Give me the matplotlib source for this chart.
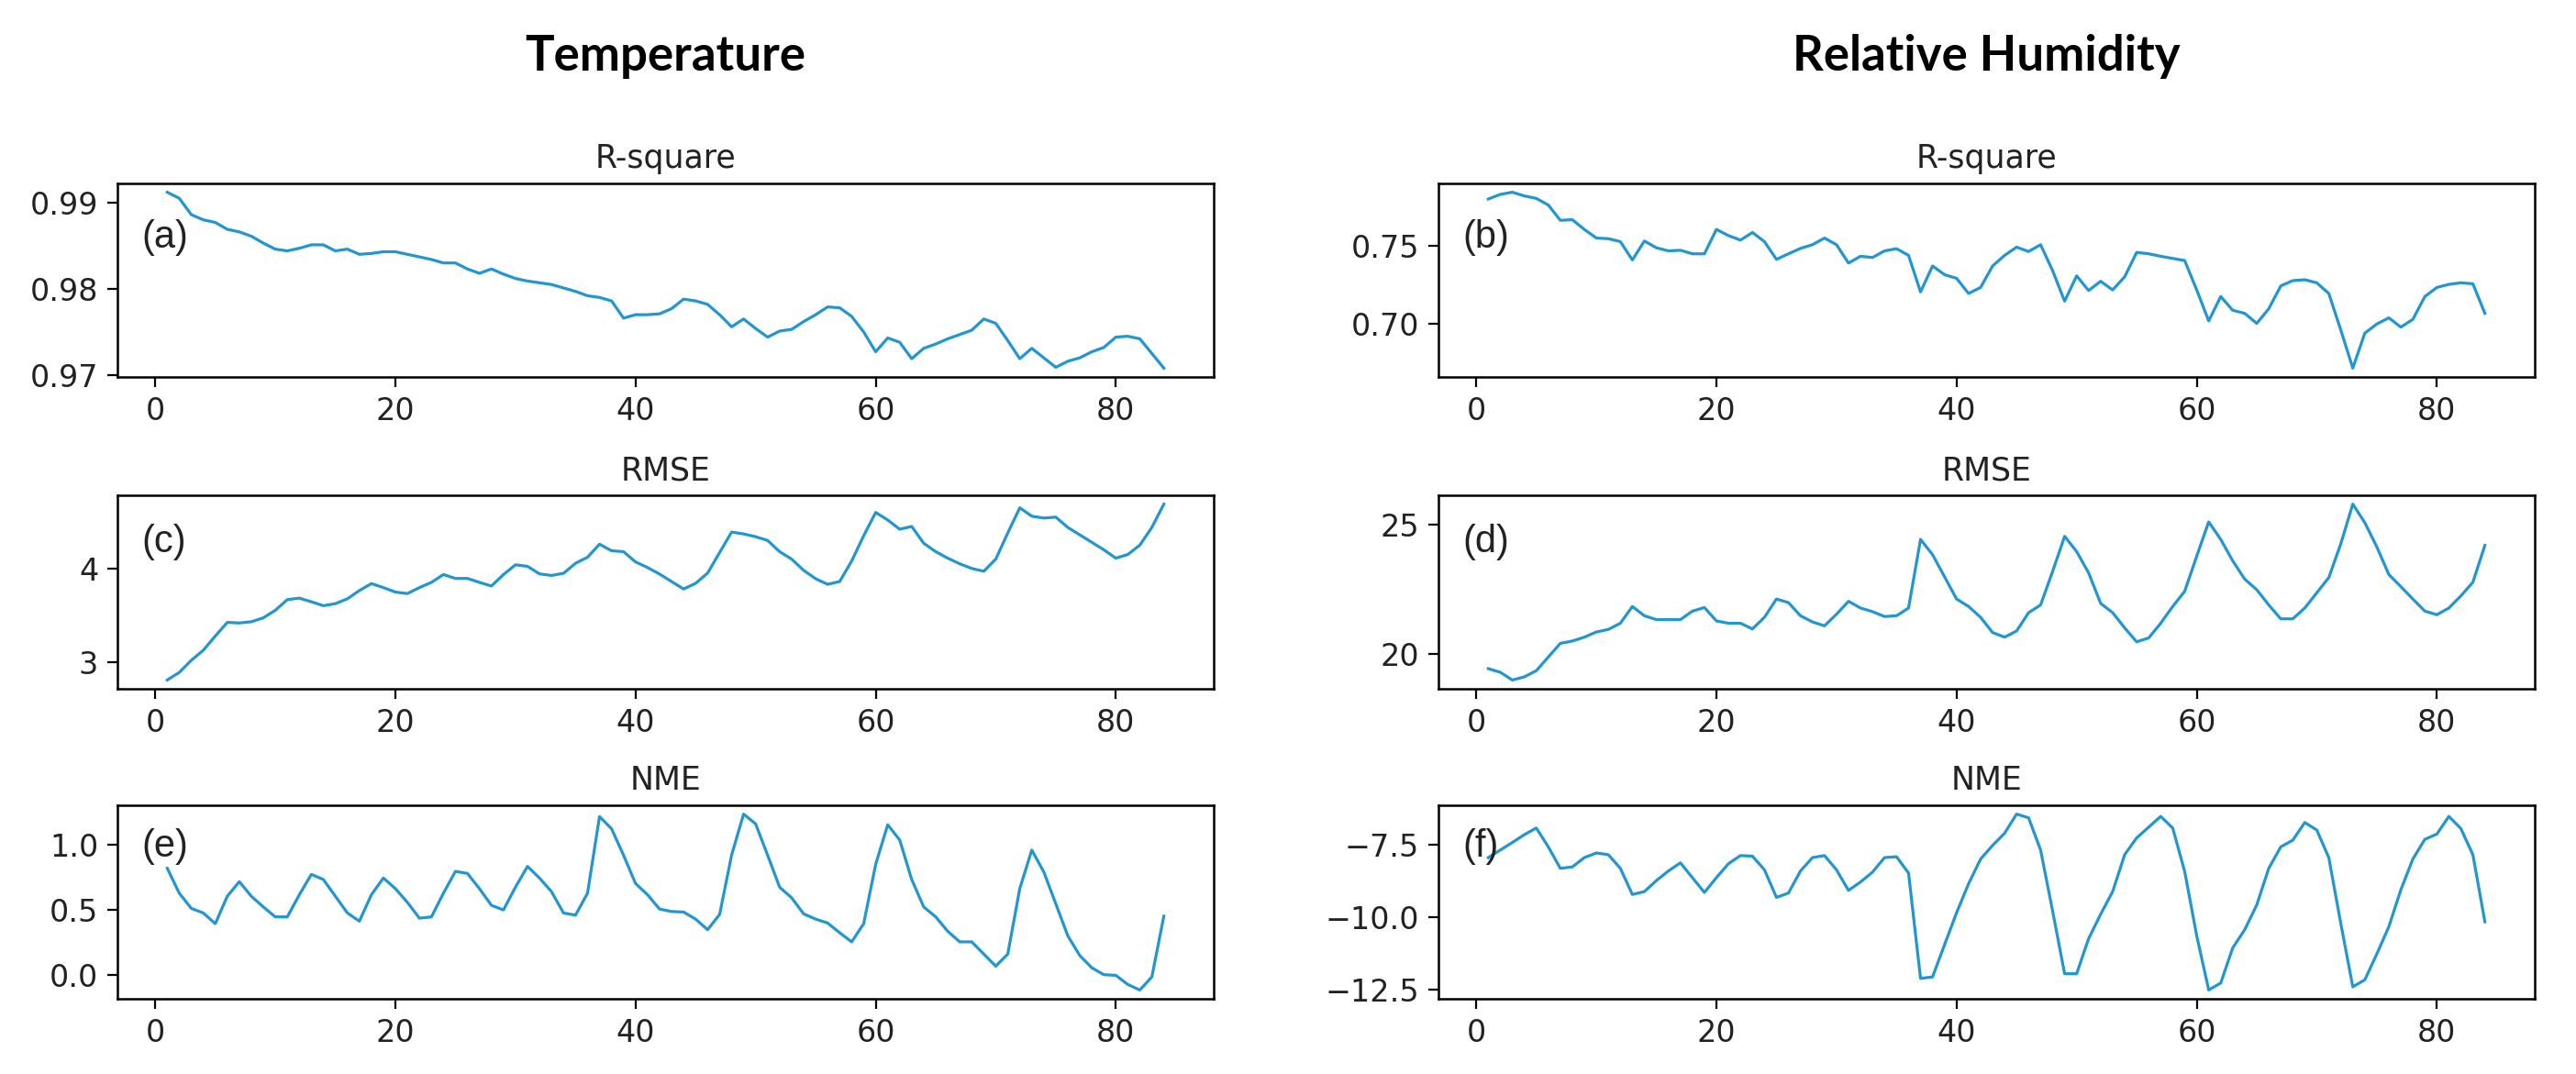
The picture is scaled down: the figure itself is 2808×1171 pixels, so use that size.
import numpy as np
import matplotlib
matplotlib.use("Agg")
import matplotlib.pyplot as plt

# lead time index 1..84
steps = list(range(1, 85))

temp_r2 = [0.9912, 0.9905, 0.9886, 0.9880, 0.9877, 0.9869, 0.9866, 0.9861, 0.9853, 0.9846,
           0.9844, 0.9847, 0.9851, 0.9851, 0.9844, 0.9846, 0.9840, 0.9841, 0.9843, 0.9843,
           0.9840, 0.9837, 0.9834, 0.9830, 0.9830, 0.9823, 0.9818, 0.9823, 0.9817, 0.9812,
           0.9809, 0.9807, 0.9805, 0.9801, 0.9797, 0.9792, 0.9790, 0.9786, 0.9766, 0.9770,
           0.9770, 0.9771, 0.9777, 0.9788, 0.9786, 0.9782, 0.9770, 0.9756, 0.9765, 0.9754,
           0.9744, 0.9751, 0.9753, 0.9762, 0.9770, 0.9779, 0.9778, 0.9768, 0.9750, 0.9727,
           0.9743, 0.9738, 0.9719, 0.9731, 0.9736, 0.9742, 0.9747, 0.9752, 0.9765, 0.9760,
           0.9740, 0.9719, 0.9731, 0.9720, 0.9709, 0.9716, 0.9720, 0.9727, 0.9732, 0.9744,
           0.9745, 0.9742, 0.9725, 0.9708]

rh_r2 = [0.7806, 0.7836, 0.7850, 0.7826, 0.7810, 0.7767, 0.7668, 0.7672, 0.7609, 0.7553,
         0.7549, 0.7530, 0.7411, 0.7534, 0.7490, 0.7470, 0.7474, 0.7451, 0.7451, 0.7609,
         0.7569, 0.7540, 0.7589, 0.7530, 0.7415, 0.7451, 0.7486, 0.7510, 0.7553, 0.7510,
         0.7391, 0.7435, 0.7427, 0.7470, 0.7484, 0.7441, 0.7204, 0.7372, 0.7316, 0.7292,
         0.7194, 0.7233, 0.7372, 0.7441, 0.7494, 0.7466, 0.7510, 0.7342, 0.7144, 0.7308,
         0.7213, 0.7273, 0.7217, 0.7302, 0.7460, 0.7451, 0.7435, 0.7421, 0.7407, 0.7217,
         0.7016, 0.7174, 0.7085, 0.7065, 0.7000, 0.7095, 0.7243, 0.7277, 0.7283, 0.7263,
         0.7194, 0.6957, 0.6710, 0.6937, 0.6996, 0.7036, 0.6976, 0.7026, 0.7174, 0.7233,
         0.7253, 0.7263, 0.7257, 0.7065]

temp_rmse = [2.805, 2.886, 3.016, 3.123, 3.276, 3.422, 3.416, 3.429, 3.471, 3.552,
             3.666, 3.682, 3.643, 3.601, 3.623, 3.675, 3.763, 3.838, 3.795, 3.747,
             3.731, 3.795, 3.851, 3.935, 3.893, 3.893, 3.851, 3.812, 3.935, 4.039,
             4.023, 3.942, 3.925, 3.948, 4.055, 4.120, 4.260, 4.190, 4.180, 4.070,
             4.010, 3.940, 3.860, 3.780, 3.840, 3.950, 4.170, 4.390, 4.370, 4.340,
             4.300, 4.180, 4.100, 3.980, 3.890, 3.830, 3.860, 4.080, 4.350, 4.600,
             4.520, 4.420, 4.450, 4.270, 4.180, 4.110, 4.050, 4.000, 3.970, 4.100,
             4.380, 4.650, 4.560, 4.540, 4.550, 4.440, 4.360, 4.280, 4.200, 4.110,
             4.150, 4.250, 4.440, 4.690]

rh_rmse = [19.43, 19.29, 18.99, 19.11, 19.35, 19.88, 20.41, 20.50, 20.65, 20.85,
           20.95, 21.19, 21.84, 21.48, 21.33, 21.33, 21.33, 21.66, 21.80, 21.28,
           21.19, 21.19, 20.97, 21.42, 22.13, 21.99, 21.48, 21.24, 21.09, 21.54,
           22.04, 21.78, 21.64, 21.45, 21.48, 21.78, 24.44, 23.85, 22.99, 22.13,
           21.84, 21.42, 20.83, 20.65, 20.89, 21.60, 21.90, 23.20, 24.56, 23.97,
           23.14, 21.96, 21.60, 21.01, 20.47, 20.62, 21.19, 21.84, 22.43, 23.79,
           25.12, 24.44, 23.61, 22.90, 22.49, 21.90, 21.36, 21.36, 21.78, 22.37,
           22.96, 24.27, 25.81, 25.09, 24.15, 23.08, 22.61, 22.13, 21.66, 21.52,
           21.78, 22.25, 22.78, 24.21]

temp_nme = [0.819, 0.628, 0.512, 0.477, 0.395, 0.605, 0.716, 0.605, 0.523, 0.447,
            0.447, 0.616, 0.772, 0.733, 0.605, 0.477, 0.414, 0.616, 0.744, 0.663,
            0.558, 0.437, 0.447, 0.628, 0.795, 0.779, 0.663, 0.535, 0.500, 0.674,
            0.833, 0.744, 0.640, 0.477, 0.460, 0.628, 1.214, 1.121, 0.919, 0.702,
            0.616, 0.507, 0.488, 0.484, 0.430, 0.349, 0.465, 0.919, 1.233, 1.158,
            0.919, 0.674, 0.593, 0.470, 0.430, 0.400, 0.326, 0.256, 0.395, 0.849,
            1.151, 1.035, 0.733, 0.523, 0.447, 0.337, 0.256, 0.256, 0.163, 0.070,
            0.163, 0.663, 0.958, 0.791, 0.547, 0.302, 0.151, 0.058, 0.005, 0.000,
            -0.070, -0.112, -0.012, 0.453]

rh_nme = [-7.94, -7.68, -7.42, -7.15, -6.92, -7.57, -8.31, -8.26, -7.94, -7.78,
          -7.84, -8.31, -9.21, -9.11, -8.73, -8.40, -8.12, -8.63, -9.14, -8.63,
          -8.15, -7.87, -7.89, -8.36, -9.31, -9.16, -8.40, -7.94, -7.87, -8.36,
          -9.07, -8.78, -8.44, -7.94, -7.91, -8.47, -12.10, -12.05, -10.94, -9.84,
          -8.84, -7.99, -7.52, -7.10, -6.44, -6.57, -7.68, -9.78, -11.94, -11.94,
          -10.73, -9.89, -9.11, -7.84, -7.26, -6.89, -6.52, -6.92, -8.42, -10.63,
          -12.50, -12.26, -11.05, -10.42, -9.57, -8.31, -7.57, -7.34, -6.73, -6.99,
          -7.94, -10.21, -12.39, -12.15, -11.26, -10.32, -9.05, -7.99, -7.31, -7.13,
          -6.52, -6.94, -7.84, -10.15]

titles = ["R-square", "RMSE", "NME"]
col_titles = ["Temperature", "Relative Humidity"]
panel_tags = [["(a)", "(c)", "(e)"], ["(b)", "(d)", "(f)"]]
yticks = [[[0.97, 0.98, 0.99], [3, 4], [0.0, 0.5, 1.0]],
          [[0.70, 0.75], [20, 25], [-12.5, -10.0, -7.5]]]
xticks = [0, 20, 40, 60, 80]

series = [[temp_r2, temp_rmse, temp_nme], [rh_r2, rh_rmse, rh_nme]]

LINE = "#2196d3"
TXT = "#222222"
W, H = 2808, 1171
fig = plt.figure(figsize=(W / 200, H / 200), dpi=200)

col_left = [128, 1568]
col_width = 1195
row_top = [200, 540, 878]
row_height = 211
tag_y = [0.72, 0.76, 0.785]

for c in range(2):
    for r in range(3):
        ax = fig.add_axes([col_left[c] / W, 1 - (row_top[r] + row_height) / H,
                           col_width / W, row_height / H])
        ax.plot(steps, series[c][r], color=LINE, lw=1.15)
        ax.set_xticks(xticks)
        ax.set_yticks(yticks[c][r])
        ax.tick_params(labelsize=12, labelcolor=TXT, length=4)
        ax.set_title(titles[r], fontsize=12.5, color=TXT)
        ax.text(0.022, tag_y[r], panel_tags[c][r], transform=ax.transAxes,
                ha="left", va="center", fontsize=15, family="Liberation Sans",
                color=TXT)
        for s in ax.spines.values():
            s.set_linewidth(0.9)

    cx = (col_left[c] + col_width / 2) / W
    fig.text(cx, 1 - 62 / H, col_titles[c], ha="center", va="center",
             fontsize=19, fontweight="bold", family="Lato")

fig.savefig("out.png", dpi=200, facecolor="white")
